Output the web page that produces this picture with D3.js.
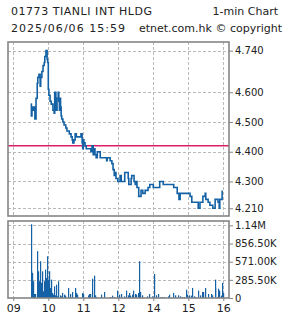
<!DOCTYPE html>
<html lang="en">
<head>
<meta charset="UTF-8">
<title>01773 1-min</title>
<script src="https://d3js.org/d3.v7.min.js"></script>
<style>
  body { margin: 0; background: #fff; }
  svg { display: block; font-family: "DejaVu Sans", sans-serif; }
</style>
</head>
<body>
<div id="chart"></div>
<script>
// price (1-min)
var priceTimes = ["09:30","09:31","09:32","09:34","09:35","09:37","09:39","09:41","09:42","09:44","09:46","09:47","09:49","09:51","09:53","09:54","09:56","09:58","09:59","10:00","10:01","10:03","10:05","10:08","10:10","10:11","10:13","10:15","10:17","10:18","10:19","10:20","10:21","10:22","10:23","10:25","10:27","10:30","10:32","10:36","10:37","10:39","10:41","10:42","10:44","10:46","10:48","10:56","10:58","10:59","11:00","11:01","11:03","11:05","11:13","11:15","11:17","11:18","11:20","11:22","11:24","11:29","11:40","11:41","11:46","11:49","11:51","11:53","11:54","11:56","11:59","13:03","13:05","13:11","13:17","13:18","13:22","13:23","13:27","13:29","13:30","13:32","13:35","13:39","13:42","13:46","13:51","13:54","14:00","14:11","14:17","14:35","14:41","14:44","14:46","15:03","15:06","15:17","15:20","15:25","15:29","15:30","15:34","15:37","15:42","15:46","15:51","15:53","15:54","15:58"];
var priceValues = [4.56,4.52,4.55,4.54,4.55,4.51,4.58,4.63,4.65,4.66,4.62,4.65,4.67,4.69,4.70,4.72,4.74,4.71,4.70,4.61,4.59,4.57,4.56,4.54,4.53,4.60,4.54,4.58,4.60,4.57,4.54,4.58,4.55,4.52,4.51,4.50,4.49,4.48,4.47,4.46,4.46,4.45,4.44,4.43,4.44,4.46,4.45,4.46,4.43,4.41,4.44,4.43,4.42,4.41,4.40,4.42,4.39,4.41,4.39,4.38,4.40,4.38,4.37,4.38,4.37,4.36,4.34,4.32,4.33,4.31,4.30,4.32,4.30,4.33,4.31,4.29,4.31,4.32,4.30,4.29,4.30,4.28,4.25,4.27,4.26,4.27,4.28,4.29,4.28,4.30,4.29,4.28,4.26,4.24,4.26,4.25,4.23,4.21,4.23,4.25,4.26,4.24,4.23,4.22,4.21,4.24,4.23,4.21,4.24,4.27];
var prevClose = 4.42;

// volume bars
var volTimes = ["09:30","09:31","09:32","09:34","09:35","09:38","09:41","09:42","09:44","09:46","09:47","09:49","09:51","09:53","09:54","09:56","09:58","09:59","10:01","10:03","10:05","10:06","10:08","10:10","10:11","10:13","10:15","10:17","10:20","10:22","10:23","10:27","10:29","10:34","10:37","10:41","10:45","10:47","10:49","10:58","10:59","11:08","11:10","11:12","11:15","11:18","11:20","11:22","11:31","11:36","11:46","11:50","11:53","11:58","13:01","13:05","13:10","13:13","13:16","13:18","13:20","13:23","13:26","13:29","13:31","13:33","13:36","13:38","13:40","13:49","13:53","13:57","14:02","14:05","14:08","14:11","14:15","14:18","14:26","14:27","14:34","14:37","14:43","14:45","14:49","14:53","14:56","14:58","15:01","15:04","15:07","15:10","15:12","15:17","15:20","15:23","15:26","15:29","15:33","15:39","15:41","15:45","15:46","15:49","15:51","15:53","15:56","15:57","15:59"];
var volValues = [1160000,420000,394000,263000,63000,63000,736000,420000,263000,578000,237000,420000,105000,263000,447000,315000,657000,289000,420000,158000,289000,79000,53000,184000,42000,210000,26000,263000,42000,26000,79000,53000,37000,158000,63000,95000,158000,79000,53000,79000,63000,42000,63000,63000,305000,352000,42000,16000,53000,95000,16000,37000,16000,116000,53000,63000,26000,116000,42000,79000,37000,53000,116000,63000,53000,79000,578000,95000,42000,26000,63000,26000,378000,42000,63000,16000,16000,16000,26000,53000,79000,42000,42000,26000,16000,16000,131000,53000,42000,37000,158000,26000,16000,116000,42000,95000,95000,158000,63000,63000,42000,289000,158000,16000,147000,116000,37000,237000,79000];

var hourTicks = ["09:00","10:00","11:00","12:00","14:00","15:00","16:00"];
var priceTicks = [4.21, 4.30, 4.40, 4.50, 4.60, 4.74];
var volTicks = [0, 285500, 571000, 856500, 1142000];
var volLabels = ["0", "285.50K", "571.00K", "856.50K", "1.14M"];

var W = 285, H = 318;
var L = 8, R = 229;
var pTop = 42, pBot = 216, vTop = 221, vBot = 298;
var BLUE = "#1462a5", GRID = "#b9b9b9", FRAME = "#858585";

// trading minutes since 09:00, lunch hour removed
function sm(t) {
  var p = t.split(":").map(Number);
  var v = (p[0] - 9) * 60 + p[1];
  if (p[0] >= 13) v -= 60;
  return v;
}

var x = d3.scaleLinear().domain([0, 360]).range([13.3, 223.3]);
var yP = d3.scaleLinear().domain([4.184, 4.769]).range([pBot, pTop]);
var yV = d3.scaleLinear().domain([0, 1211000]).range([vBot, vTop]);

var svg = d3.select("#chart").append("svg")
  .attr("width", W).attr("height", H);

// header
var hdr = svg.append("g").attr("fill", "#222").attr("font-size", "11px");
hdr.append("text").attr("x", 11).attr("y", 15).attr("textLength", 141).text("01773 TIANLI INT HLDG");
hdr.append("text").attr("x", 278).attr("y", 15).attr("text-anchor", "end").text("1-min Chart");
hdr.append("text").attr("x", 11).attr("y", 32).attr("textLength", 114).text("2025/06/06 15:59");
hdr.append("text").attr("x", 282).attr("y", 32).attr("text-anchor", "end").text("etnet.com.hk \u00a9 copyright");

function grid(top, bot, yScale, vals) {
  var g = svg.append("g").attr("stroke", GRID).attr("stroke-dasharray", "3,2").attr("stroke-width", 1);
  g.selectAll(".h").data(vals.filter(function(v) { return v > 0; })).enter().append("line")
    .attr("x1", L).attr("x2", R)
    .attr("y1", function(d) { return Math.round(yScale(d)) + 0.5; })
    .attr("y2", function(d) { return Math.round(yScale(d)) + 0.5; });
  g.selectAll(".v").data(hourTicks).enter().append("line")
    .attr("x1", function(d) { return Math.round(x(sm(d))) + 0.5; })
    .attr("x2", function(d) { return Math.round(x(sm(d))) + 0.5; })
    .attr("y1", top).attr("y2", bot);
}
grid(pTop, pBot, yP, priceTicks);
grid(vTop, vBot, yV, volTicks);

// previous close
svg.append("line")
  .attr("x1", L).attr("x2", R)
  .attr("y1", yP(prevClose)).attr("y2", yP(prevClose))
  .attr("stroke", "#dc1e66").attr("stroke-width", 1.4);

// price line
var pts = priceTimes.map(function(t, i) { return [sm(t), priceValues[i]]; });
svg.append("path")
  .datum(pts)
  .attr("fill", "none")
  .attr("stroke", BLUE)
  .attr("stroke-width", 1.6)
  .attr("d", d3.line()
    .x(function(d) { return x(d[0]); })
    .y(function(d) { return yP(d[1]); })
    .curve(d3.curveStepAfter));

// volume bars
svg.append("g").attr("fill", BLUE)
  .selectAll("rect").data(volTimes).enter().append("rect")
  .attr("x", function(d) { return Math.round(x(sm(d))); })
  .attr("width", 1.2)
  .attr("y", function(d, i) { return yV(volValues[i]); })
  .attr("height", function(d, i) { return vBot - yV(volValues[i]); });

// frames
[[pTop, pBot], [vTop, vBot]].forEach(function(f) {
  svg.append("rect")
    .attr("x", L).attr("y", f[0]).attr("width", R - L).attr("height", f[1] - f[0])
    .attr("fill", "none").attr("stroke", FRAME).attr("stroke-width", 1.6);
});

// right axes
function styleAxis(g) {
  g.select(".domain").remove();
  g.selectAll(".tick line").attr("stroke", FRAME);
  g.selectAll(".tick text").attr("fill", "#222").attr("font-family", "DejaVu Sans, sans-serif").attr("font-size", "10px");
}
svg.append("g").attr("transform", "translate(" + R + ",0)")
  .call(d3.axisRight(yP).tickValues(priceTicks).tickFormat(d3.format(".3f")).tickSize(4).tickPadding(2))
  .call(styleAxis);
svg.append("g").attr("transform", "translate(" + R + ",0)")
  .call(d3.axisRight(yV).tickValues(volTicks).tickFormat(function(d, i) { return volLabels[i]; }).tickSize(4).tickPadding(2))
  .call(styleAxis);

// time axis
var xa = svg.append("g").attr("transform", "translate(0," + vBot + ")")
  .call(d3.axisBottom(x).tickValues(hourTicks.map(sm))
    .tickFormat(function(d, i) { return hourTicks[i].slice(0, 2); })
    .tickSize(3).tickPadding(3))
  .call(styleAxis);
xa.selectAll(".tick text").attr("font-size", "11px");
</script>
</body>
</html>
